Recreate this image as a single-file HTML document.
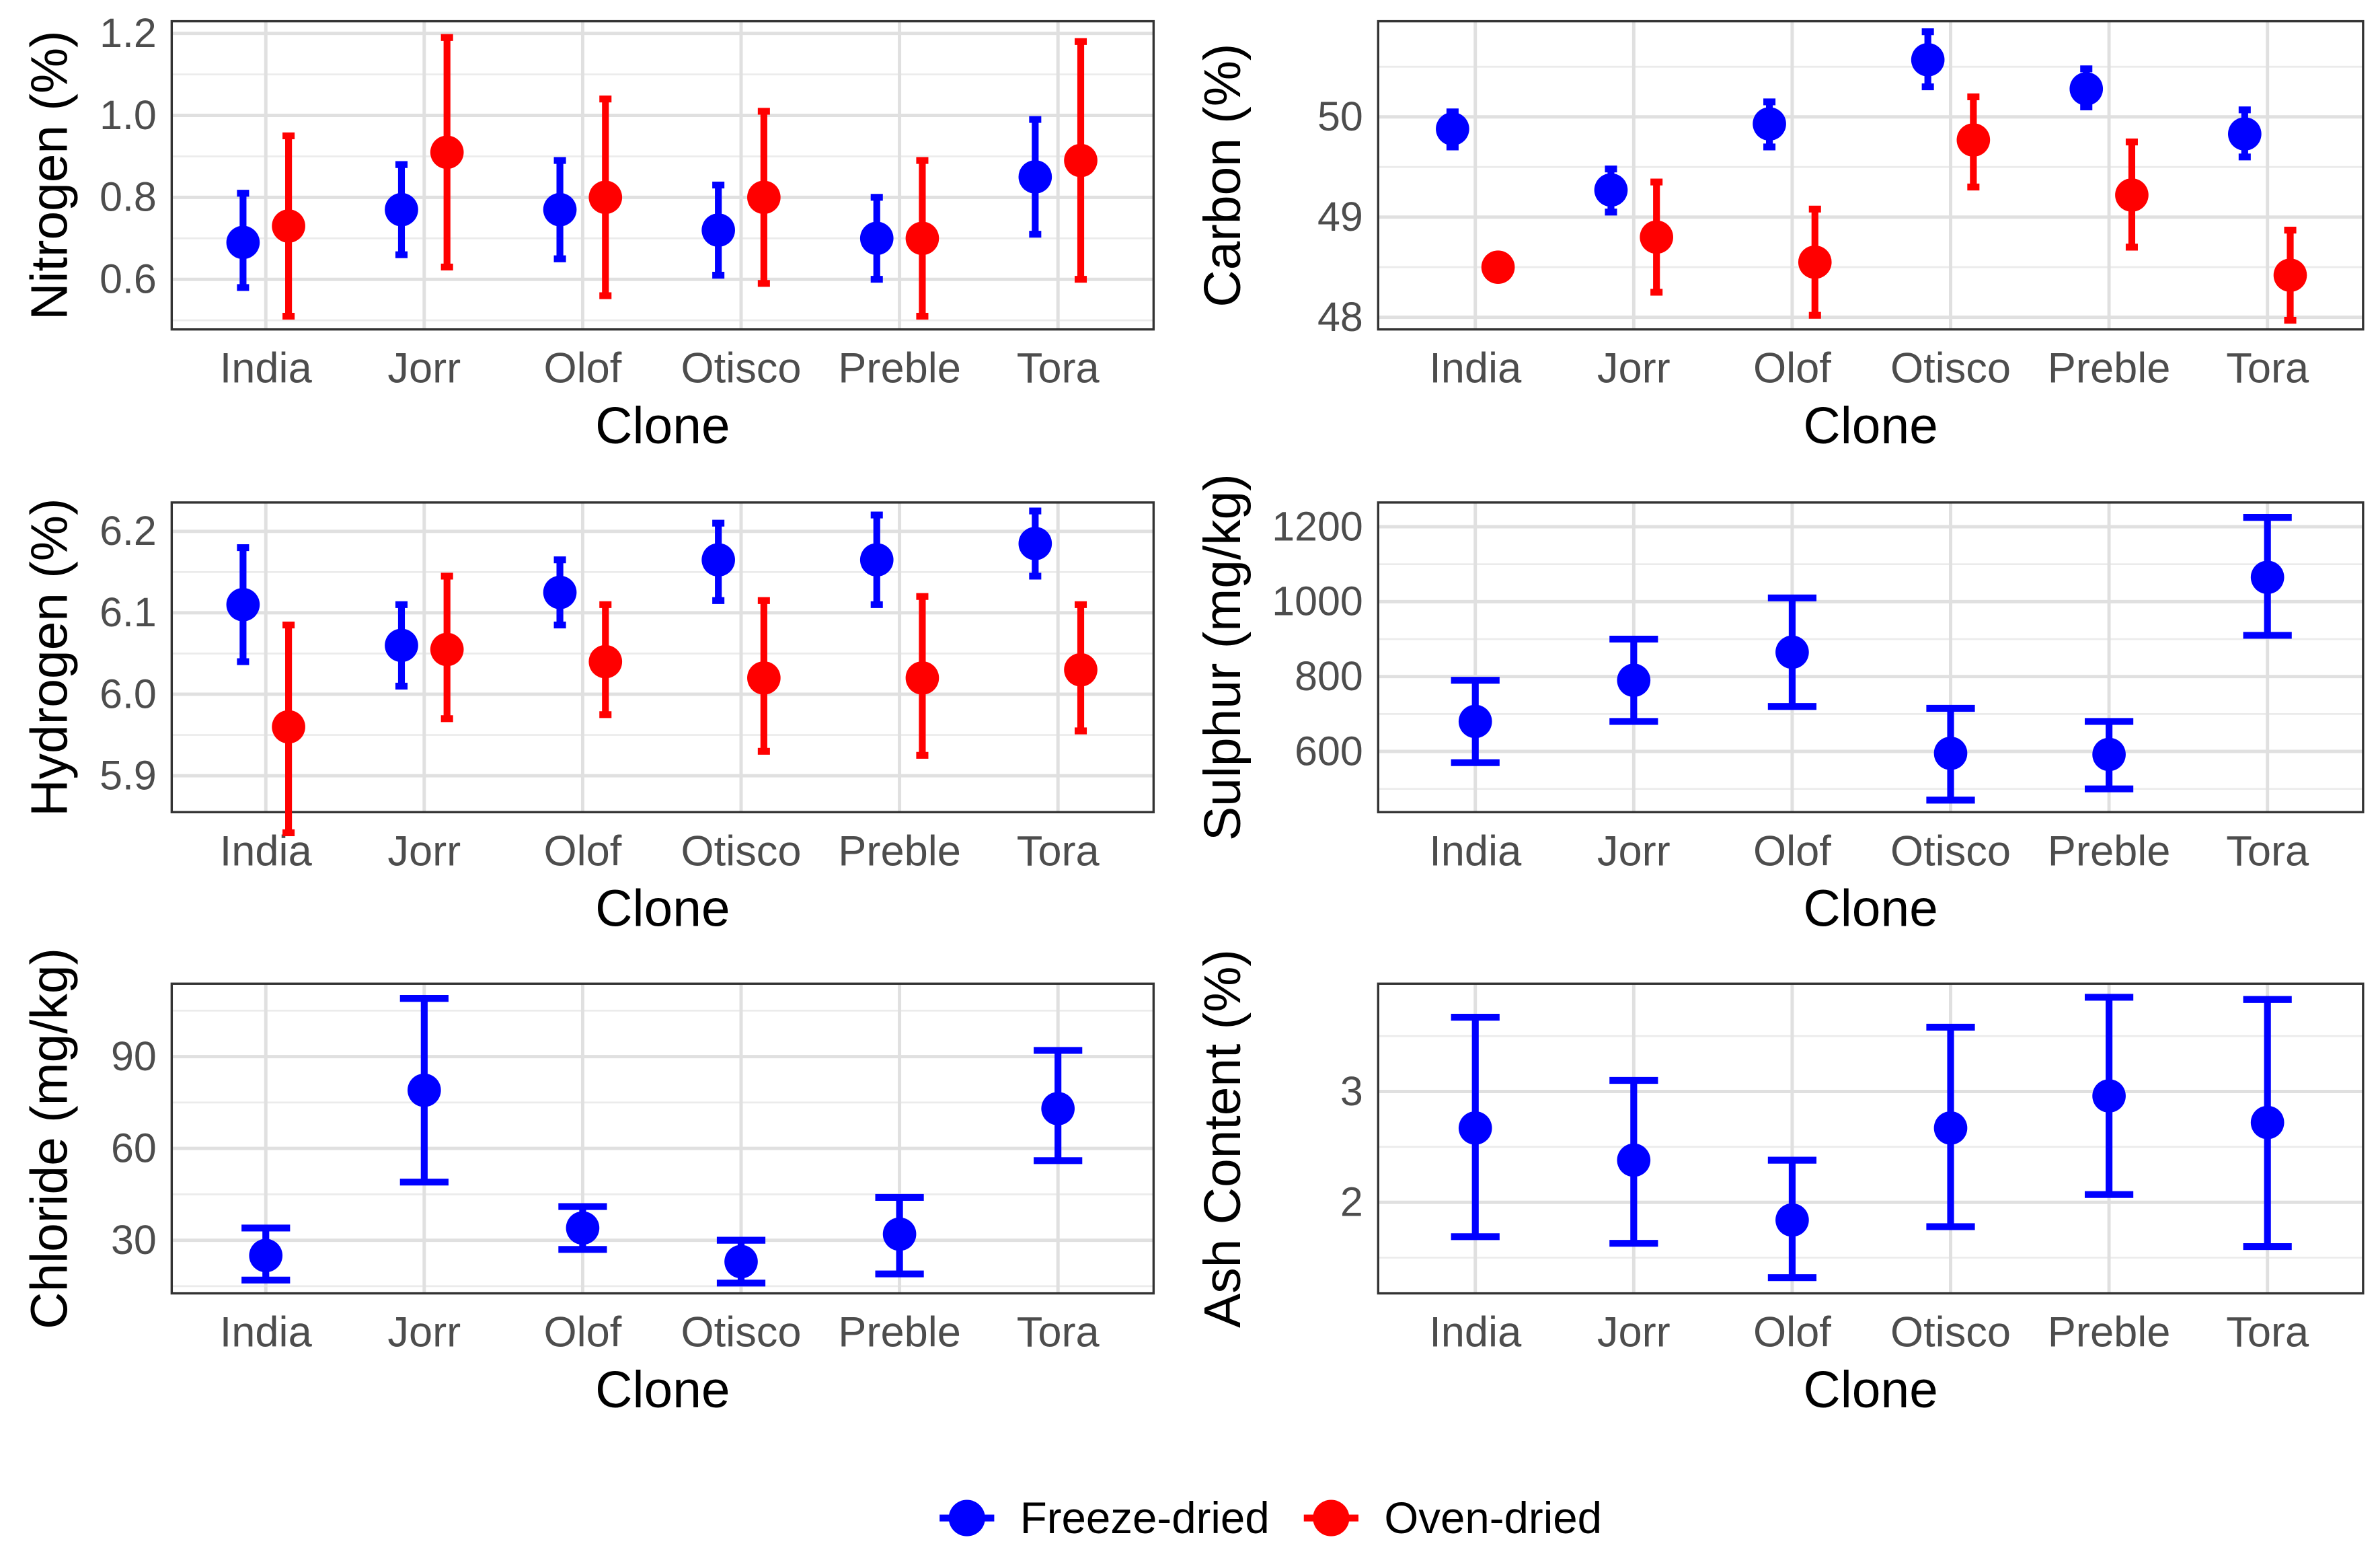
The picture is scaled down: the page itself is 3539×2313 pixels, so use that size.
<!DOCTYPE html>
<html><head><meta charset="utf-8"><style>
html,body{margin:0;padding:0;background:#fff;}
svg{display:block;font-family:"Liberation Sans",Arial,sans-serif;}
</style></head><body>
<svg id="chart" width="3539" height="2313" viewBox="0 0 1568 1025" xmlns="http://www.w3.org/2000/svg"></svg>
<script>
const categories = ["India","Jorr","Olof","Otisco","Preble","Tora"];
const nFreeze = [0.69,0.77,0.77,0.72,0.70,0.85];
const nFreezeLo = [0.58,0.66,0.65,0.61,0.60,0.71];
const nFreezeHi = [0.81,0.88,0.89,0.83,0.80,0.99];
const nOven = [0.73,0.91,0.80,0.80,0.70,0.89];
const nOvenLo = [0.51,0.63,0.56,0.59,0.51,0.60];
const nOvenHi = [0.95,1.19,1.04,1.01,0.89,1.18];
const nTicks = ["0.6","0.8","1.0","1.2"];
const cFreeze = [49.88,49.27,49.93,50.57,50.28,49.83];
const cFreezeLo = [49.70,49.05,49.70,50.30,50.10,49.60];
const cFreezeHi = [50.05,49.48,50.15,50.85,50.48,50.07];
const cOven = [48.50,48.80,48.55,49.77,49.22,48.42];
const cOvenLo = [48.45,48.25,48.02,49.30,48.70,47.97];
const cOvenHi = [48.55,49.35,49.08,50.20,49.75,48.87];
const cTicks = ["48","49","50"];
const hFreeze = [6.11,6.06,6.125,6.165,6.165,6.185];
const hFreezeLo = [6.04,6.01,6.085,6.115,6.11,6.145];
const hFreezeHi = [6.18,6.11,6.165,6.21,6.22,6.225];
const hOven = [5.96,6.055,6.04,6.02,6.02,6.03];
const hOvenLo = [5.83,5.97,5.975,5.93,5.925,5.955];
const hOvenHi = [6.085,6.145,6.11,6.115,6.12,6.11];
const hTicks = ["5.9","6.0","6.1","6.2"];
const sFreeze = [680,790,865,595,592,1065];
const sFreezeLo = [570,680,720,470,500,910];
const sFreezeHi = [790,900,1010,715,680,1225];
const sTicks = ["600","800","1000","1200"];
const clFreeze = [25,79,34,23,32,73];
const clFreezeLo = [17,49,27,16,19,56];
const clFreezeHi = [34,109,41,30,44,92];
const clTicks = ["30","60","90"];
const ashFreeze = [2.67,2.38,1.84,2.67,2.96,2.72];
const ashFreezeLo = [1.69,1.63,1.32,1.78,2.07,1.60];
const ashFreezeHi = [3.67,3.10,2.38,3.58,3.85,3.83];
const ashTicks = ["2","3"];

const NS="http://www.w3.org/2000/svg";
const svg=document.getElementById('chart');
function mk(tag,attrs,parent){const e=document.createElementNS(NS,tag);for(const k in attrs)e.setAttribute(k,attrs[k]);(parent||svg).appendChild(e);return e;}

const panels=[
 {name:"nitrogen",title:"Nitrogen (%)",x0:113,x1:760,y0:14,y1:217,v0:0.6,p0:184,v1:1.2,p1:22,ticks:nTicks,minor:0.1,series:[[nFreeze,nFreezeLo,nFreezeHi,"#0000ff",-15],[nOven,nOvenLo,nOvenHi,"#ff0000",15]],cap:8,tcx:44},
 {name:"carbon",title:"Carbon (%)",x0:908,x1:1557,y0:14,y1:217,v0:48,p0:209,v1:50,p1:77,ticks:cTicks,minor:0.5,series:[[cFreeze,cFreezeLo,cFreezeHi,"#0000ff",-15],[cOven,cOvenLo,cOvenHi,"#ff0000",15]],cap:8,tcx:817},
 {name:"hydrogen",title:"Hydrogen (%)",x0:113,x1:760,y0:331,y1:535,v0:5.9,p0:511,v1:6.2,p1:350,ticks:hTicks,minor:0.05,series:[[hFreeze,hFreezeLo,hFreezeHi,"#0000ff",-15],[hOven,hOvenLo,hOvenHi,"#ff0000",15]],cap:8,tcx:44},
 {name:"sulphur",title:"Sulphur (mg/kg)",x0:908,x1:1557,y0:331,y1:535,v0:600,p0:495,v1:1200,p1:347,ticks:sTicks,minor:100,series:[[sFreeze,sFreezeLo,sFreezeHi,"#0000ff",0]],cap:32,tcx:817},
 {name:"chloride",title:"Chloride (mg/kg)",x0:113,x1:760,y0:648,y1:852,v0:30,p0:817,v1:90,p1:696,ticks:clTicks,minor:15,series:[[clFreeze,clFreezeLo,clFreezeHi,"#0000ff",0]],cap:32,tcx:44},
 {name:"ash",title:"Ash Content (%)",x0:908,x1:1557,y0:648,y1:852,v0:2,p0:792,v1:3,p1:719,ticks:ashTicks,minor:0.5,series:[[ashFreeze,ashFreezeLo,ashFreezeHi,"#0000ff",0]],cap:32,tcx:817}
];

panels.forEach(P=>{
 const g=mk('g',{});
 
 
 const y=v=>P.p0+(v-P.v0)*(P.p1-P.p0)/(P.v1-P.v0);
 const first=(P.x0>500)?972:175;
 const xs=i=>first+i*104.4;
 const k=(P.p1-P.p0)/(P.v1-P.v0);
 const vMin=P.v0+(P.y1-P.p0)/k;
 const vMax=P.v0+(P.y0-P.p0)/k;
 for(let v=Math.ceil(vMin/P.minor)*P.minor; v<=vMax; v+=P.minor){
   const l=mk('line',{x1:P.x0,x2:P.x1,y1:y(v),y2:y(v),stroke:"#ebebeb","stroke-width":1.2},g);
   
   
 }
 P.ticks.forEach(t=>{
   const v=parseFloat(t);
   const l=mk('line',{x1:P.x0,x2:P.x1,y1:y(v),y2:y(v),stroke:"#e0e0e0","stroke-width":2.2},g);
   
   
   const tx=mk('text',{x:P.x0-10,y:y(v)+9,"text-anchor":"end","font-size":27,fill:"#4d4d4d"},g);
   tx.textContent=t;
   
   
 });
 categories.forEach((c,i)=>{
   const l=mk('line',{x1:xs(i),x2:xs(i),y1:P.y0,y2:P.y1,stroke:"#e0e0e0","stroke-width":2.2},g);
   
   
   const tx=mk('text',{x:xs(i),y:P.y1+35,"text-anchor":"middle","font-size":28,fill:"#4d4d4d"},g);
   tx.textContent=c;
   
   
 });
 const bd=mk('rect',{x:P.x0,y:P.y0,width:P.x1-P.x0,height:P.y1-P.y0,fill:"none",stroke:"#333","stroke-width":1.5},g);
 
 
 const xt=mk('text',{x:(P.x0+P.x1)/2,y:P.y1+75,"text-anchor":"middle","font-size":34,fill:"#000"},g);
 xt.textContent="Clone";
 
 
 const cy=(P.y0+P.y1)/2, cx=P.tcx;
 const yt=mk('text',{x:cx,y:cy,"text-anchor":"middle","font-size":34,fill:"#000",transform:`rotate(-90 ${cx} ${cy})`},g);
 yt.textContent=P.title;
 
 
 P.series.forEach(S=>{
   const [m,lo,hi,col,off]=S;
   categories.forEach((c,i)=>{
     const x=xs(i)+off, h=P.cap/2;
     const eb=mk('path',{d:`M${x},${y(lo[i])}V${y(hi[i])}M${x-h},${y(lo[i])}H${x+h}M${x-h},${y(hi[i])}H${x+h}`,stroke:col,"stroke-width":4.5,fill:"none"},g);
     
     
     const pt=mk('circle',{cx:x,cy:y(m[i]),r:11,fill:col},g);
     
     
   });
 });
});
const lg=mk('g',{});


[["Freeze-dried","#0000ff",637],["Oven-dried","#ff0000",877]].forEach(([lab,col,x])=>{
 const e=mk('g',{},lg);
 
 
 mk('line',{x1:x-18,x2:x+18,y1:1000,y2:1000,stroke:col,"stroke-width":4.5},e);
 mk('circle',{cx:x,cy:1000,r:12,fill:col},e);
 const t=mk('text',{x:x+35,y:1010,"font-size":29,fill:"#000"},e);
 t.textContent=lab;
});
</script>
</body></html>
